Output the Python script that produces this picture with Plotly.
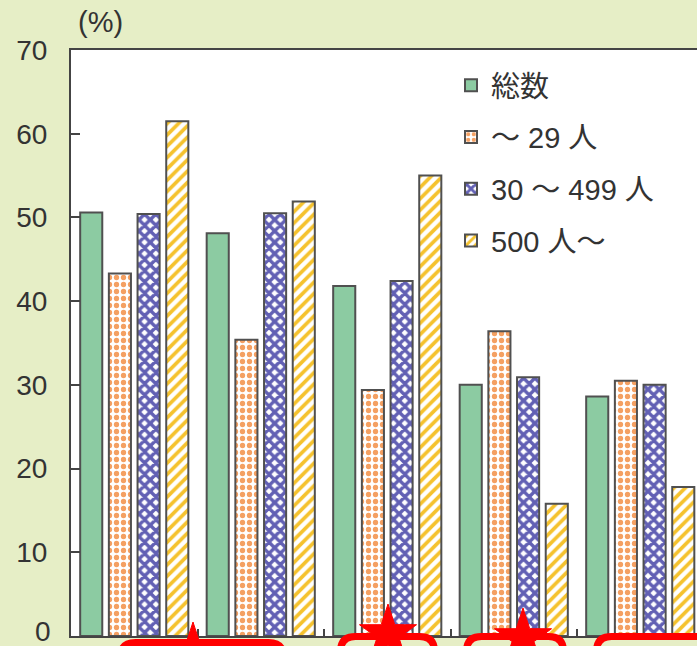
import math
import plotly.graph_objects as go

# Survey shares (%) by enterprise size, five item groups
categories = ["項目1", "項目2", "項目3", "項目4", "項目5"]
series_names = ["総数", "～ 29 人", "30 ～ 499 人", "500 人～"]
total = [50.6, 48.1, 41.8, 30.0, 28.6]
small = [43.3, 35.4, 29.4, 36.4, 30.5]
medium = [50.4, 50.5, 42.4, 30.9, 30.0]
large = [61.5, 51.9, 55.0, 15.8, 17.8]
y_ticks = [0, 10, 20, 30, 40, 50, 60, 70]

W, H = 697, 646
L, R, T, B = 71, 697, 50, 636  # plot area in pixels


def px_x(p):
    return (p - L) / (R - L)


def px_y(p):
    return (B - p) / (B - T)


BG = "#E6EEC6"
EDGE = "#505050"
TXT = "#333333"
FONT = "Liberation Sans, Arial, Noto Sans CJK JP, sans-serif"

styles = [
    dict(color="#8CCBA2", pattern=None),
    dict(color="white", pattern=dict(shape=".", fgcolor="#F4A062", bgcolor="white", size=7,
                                     solidity=0.45, fgopacity=1)),
    dict(color="white", pattern=dict(shape="x", fgcolor="#6260B4", bgcolor="white", size=8,
                                     solidity=0.68, fgopacity=1)),
    dict(color="white", pattern=dict(shape="/", fgcolor="#F5C22E", bgcolor="white", size=8,
                                     solidity=0.46, fgopacity=1)),
]

fig = go.Figure()
for i, (name, vals) in enumerate(zip(series_names, [total, small, medium, large])):
    st = styles[i]
    marker = dict(color=st["color"], line=dict(color=EDGE, width=2))
    if st["pattern"]:
        marker["pattern"] = st["pattern"]
    fig.add_trace(go.Bar(
        x=categories, y=vals, name=name, marker=marker,
        legendgroup=f"g{i}", hoverinfo="skip",
    ))

# Red callout frames and stars along the bottom edge
RED = "#FF0000"


def rounded_top(x0, x1, y0, r=15, ybot=720):
    pts = [
        f"M{px_x(x0)},{px_y(ybot)}",
        f"L{px_x(x0)},{px_y(y0 + r)}",
        f"Q{px_x(x0)},{px_y(y0)} {px_x(x0 + r)},{px_y(y0)}",
        f"L{px_x(x1 - r)},{px_y(y0)}",
        f"Q{px_x(x1)},{px_y(y0)} {px_x(x1)},{px_y(y0 + r)}",
        f"L{px_x(x1)},{px_y(ybot)}",
    ]
    return " ".join(pts)


def star(cx, cy, ro=30, ri=11.5):
    pts = []
    for k in range(10):
        ang = -math.pi / 2 + k * math.pi / 5
        rr = ro if k % 2 == 0 else ri
        pts.append((cx + rr * math.cos(ang), cy + rr * math.sin(ang)))
    return "M" + " L".join(f"{px_x(x)},{px_y(y)}" for x, y in pts) + " Z"


shapes = []
for x0, x1, y0 in [(120.5, 283.5, 642.5), (340.5, 434.5, 636.5), (466.5, 563.5, 636.5), (596.5, 790, 636.5)]:
    shapes.append(dict(type="path", path=rounded_top(x0, x1, y0), xref="paper", yref="paper",
                       line=dict(color=RED, width=7), layer="above"))
for cx, cy in [(193, 652), (388, 634), (523, 638)]:
    shapes.append(dict(type="path", path=star(cx, cy), xref="paper", yref="paper",
                       fillcolor=RED, line=dict(color=RED, width=1), layer="above"))

cat_px = 126.5
x_end = -0.5 + (R - L) / cat_px

annotations = [dict(
    text="(%)", x=px_x(76), y=px_y(22), xref="paper", yref="paper",
    xanchor="left", yanchor="middle", showarrow=False,
    font=dict(size=29, color=TXT, family=FONT),
)]
# baseline label kept just inside the figure's bottom edge
annotations.append(dict(
    text=str(y_ticks[0]), x=px_x(53), y=px_y(H + 3), xref="paper", yref="paper",
    xanchor="right", yanchor="bottom", showarrow=False,
    font=dict(size=28, color=TXT, family=FONT),
))

fig.update_layout(
    width=W, height=H,
    margin=dict(l=L, r=W - R, t=T, b=H - B, pad=0),
    paper_bgcolor=BG, plot_bgcolor="white",
    barmode="group", bargap=0.093, bargroupgap=0.23,
    font=dict(family=FONT, color=TXT),
    showlegend=True,
    legend=dict(
        x=px_x(451), y=px_y(60), xanchor="left", yanchor="top",
        bgcolor="rgba(0,0,0,0)", font=dict(size=29, color=TXT, family=FONT),
        tracegroupgap=11, traceorder="grouped",
    ),
    xaxis=dict(
        range=[-0.5, x_end], showticklabels=False, tickson="boundaries",
        ticks="inside", ticklen=7, tickwidth=1.5, tickcolor="#444",
        showline=True, linecolor="#444", linewidth=2, mirror=True,
        showgrid=False, zeroline=False, fixedrange=True,
    ),
    yaxis=dict(
        range=[0, 70], tickvals=y_ticks[1:], ticks="inside", ticklen=9, tickwidth=1.5,
        tickcolor="#444", showline=True, linecolor="#444", linewidth=2,
        showgrid=False, zeroline=False, ticklabelstandoff=16,
        tickfont=dict(size=28, color=TXT, family=FONT), fixedrange=True,
    ),
    annotations=annotations,
    shapes=shapes,
)

fig.write_html("out.html")
